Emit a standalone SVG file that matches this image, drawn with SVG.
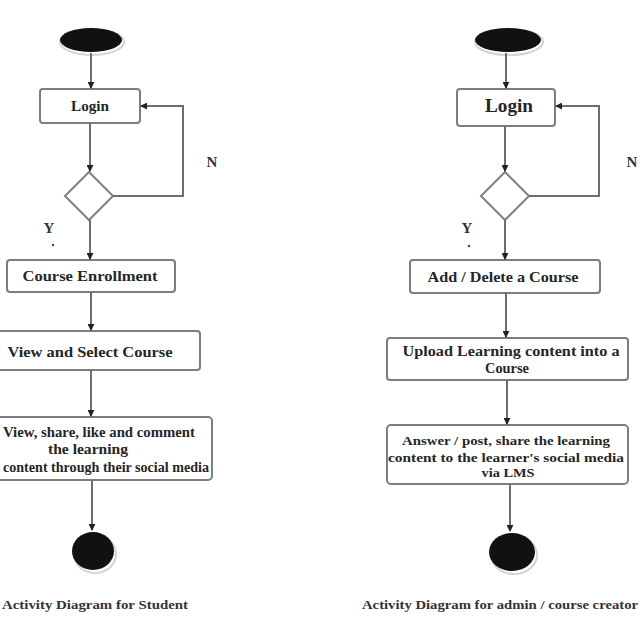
<svg xmlns="http://www.w3.org/2000/svg" width="640" height="640" viewBox="0 0 640 640">
  <defs>
    <marker id="arrow" viewBox="0 0 8 8" refX="7" refY="4" markerWidth="7" markerHeight="7" markerUnits="userSpaceOnUse" orient="auto">
      <path d="M0,0 L8,4 L0,8 z" fill="#222"/>
    </marker>
    <style>
      .box { fill: #ffffff; stroke: #7d7d7d; stroke-width: 2; }
      .dec { fill: #ffffff; stroke: #808080; stroke-width: 2; }
      .edge { fill: none; stroke: #6e6e6e; stroke-width: 2; marker-end: url(#arrow); }
      .lbl { font-family: "Liberation Serif", "Times New Roman", serif; font-weight: bold; fill: #262626; text-anchor: middle; }
      .yn { font-family: "Liberation Serif", "Times New Roman", serif; font-weight: bold; fill: #333; font-size: 15px; text-anchor: middle; }
      .cap { font-family: "Liberation Serif", "Times New Roman", serif; font-weight: bold; fill: #333; font-size: 13.5px; }
      .halo { fill: none; stroke: #d4d4d4; stroke-width: 2; }
      .dot { fill: #111; }
    </style>
  </defs>
  <rect width="640" height="640" fill="#ffffff"/>

  <!-- Student flow -->
  <g id="s-start">
    <ellipse class="halo" cx="92" cy="42" rx="32" ry="13"/>
    <ellipse class="dot" cx="91" cy="40" rx="31" ry="12"/>
  </g>
  <g id="s-login">
    <rect class="box" x="40" y="89" width="100" height="34" rx="3"/>
    <text class="lbl" x="90" y="111" font-size="15" textLength="38" lengthAdjust="spacingAndGlyphs">Login</text>
  </g>
  <g id="s-decision">
    <polygon class="dec" points="89,172 113,196 89,220 65,196"/>
  </g>
  <g id="s-enroll">
    <rect class="box" x="7" y="260" width="168" height="32" rx="3"/>
    <text class="lbl" x="90" y="281" font-size="14" textLength="135" lengthAdjust="spacingAndGlyphs">Course Enrollment</text>
  </g>
  <g id="s-select">
    <rect class="box" x="-4" y="331" width="204" height="39" rx="3"/>
    <text class="lbl" x="90" y="357" font-size="14" textLength="165" lengthAdjust="spacingAndGlyphs">View and Select Course</text>
  </g>
  <g id="s-share">
    <rect class="box" x="-20" y="417" width="232" height="63" rx="4"/>
    <text class="lbl" x="99" y="437" font-size="14" textLength="192" lengthAdjust="spacingAndGlyphs">View, share, like and comment</text>
    <text class="lbl" x="88" y="454" font-size="14" textLength="80" lengthAdjust="spacingAndGlyphs">the learning</text>
    <text class="lbl" x="106" y="472" font-size="14" textLength="206" lengthAdjust="spacingAndGlyphs">content through their social media</text>
  </g>
  <g id="s-end">
    <ellipse class="halo" cx="95" cy="554" rx="21" ry="19"/>
    <ellipse class="dot" cx="93" cy="551" rx="21" ry="19"/>
  </g>

  <!-- Admin / course creator flow -->
  <g id="a-start">
    <ellipse class="halo" cx="509" cy="42" rx="34" ry="13"/>
    <ellipse class="dot" cx="508" cy="40" rx="33" ry="12"/>
  </g>
  <g id="a-login">
    <rect class="box" x="457" y="89" width="98" height="37" rx="3"/>
    <text class="lbl" x="509" y="112" font-size="18" textLength="48" lengthAdjust="spacingAndGlyphs">Login</text>
  </g>
  <g id="a-decision">
    <polygon class="dec" points="505,172 529,196 505,220 481,196"/>
  </g>
  <g id="a-add">
    <rect class="box" x="410" y="260" width="190" height="33" rx="3"/>
    <text class="lbl" x="503" y="282" font-size="14" textLength="151" lengthAdjust="spacingAndGlyphs">Add / Delete a Course</text>
  </g>
  <g id="a-upload">
    <rect class="box" x="387" y="338" width="241" height="42" rx="3"/>
    <text class="lbl" x="511" y="356" font-size="14" textLength="217" lengthAdjust="spacingAndGlyphs">Upload Learning content into a</text>
    <text class="lbl" x="507" y="373" font-size="14" textLength="44" lengthAdjust="spacingAndGlyphs">Course</text>
  </g>
  <g id="a-answer">
    <rect class="box" x="387" y="425" width="241" height="59" rx="4"/>
    <text class="lbl" x="506" y="445" font-size="13" textLength="208" lengthAdjust="spacingAndGlyphs">Answer / post, share the learning</text>
    <text class="lbl" x="506" y="462" font-size="13" textLength="236" lengthAdjust="spacingAndGlyphs">content to  the learner's social media</text>
    <text class="lbl" x="508" y="477" font-size="13" textLength="53" lengthAdjust="spacingAndGlyphs">via LMS</text>
  </g>
  <g id="a-end">
    <ellipse class="halo" cx="514" cy="555" rx="23" ry="19"/>
    <ellipse class="dot" cx="512" cy="552" rx="23" ry="19"/>
  </g>

  <!-- Connectors -->
  <g id="connectors">
    <path class="edge" d="M91,53 V88"/>
    <path class="edge" d="M90,123 V171"/>
    <path class="edge" d="M113,196 H183 V106 H141"/>
    <path class="edge" d="M90,220 V259"/>
    <path class="edge" d="M91,292 V330"/>
    <path class="edge" d="M91,370 V416"/>
    <path class="edge" d="M92,480 V530"/>

    <path class="edge" d="M506,53 V88"/>
    <path class="edge" d="M505,126 V171"/>
    <path class="edge" d="M529,196 H599 V106 H556"/>
    <path class="edge" d="M505,220 V259"/>
    <path class="edge" d="M506,293 V337"/>
    <path class="edge" d="M507,380 V424"/>
    <path class="edge" d="M510,484 V531"/>
  </g>

  <!-- Branch labels -->
  <text class="yn" x="212" y="167">N</text>
  <text class="yn" x="49" y="233">Y</text>
  <circle cx="53" cy="245" r="1.2" fill="#444"/>
  <text class="yn" x="632" y="167">N</text>
  <text class="yn" x="467" y="233">Y</text>
  <circle cx="469" cy="246" r="1.2" fill="#444"/>

  <!-- Captions -->
  <text class="cap" x="2" y="609" textLength="186" lengthAdjust="spacingAndGlyphs">Activity Diagram for Student</text>
  <text class="cap" x="362" y="609" textLength="276" lengthAdjust="spacingAndGlyphs">Activity Diagram for admin / course creator</text>
</svg>
